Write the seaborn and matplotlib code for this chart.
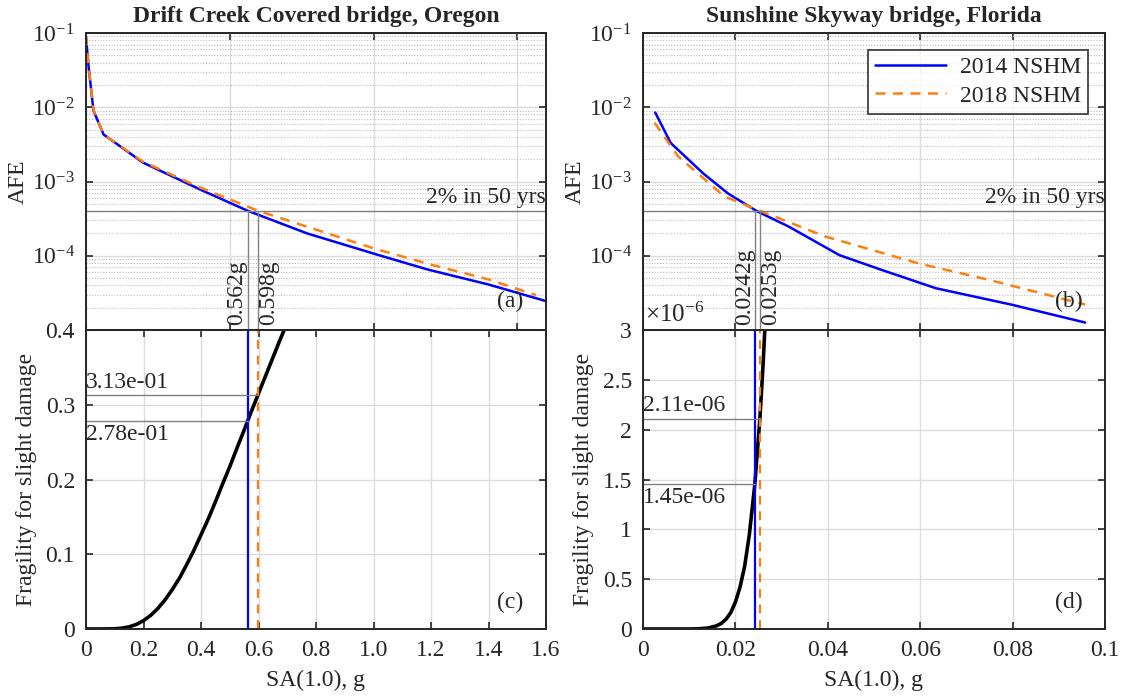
import numpy as np
import pandas as pd
import matplotlib
matplotlib.use("Agg")
import matplotlib.pyplot as plt
from matplotlib.ticker import LogLocator, NullFormatter, FuncFormatter
import seaborn as sns

sns.set_theme(style="ticks")
plt.rcParams['font.family'] = ['Liberation Serif', 'DejaVu Serif']
plt.rcParams['mathtext.fontset'] = 'stix'
plt.rcParams['mathtext.default'] = 'regular'
plt.rcParams['font.size'] = 17
FS = 17

# hazard curves (SA in g, AFE)
or_sa_2014 = [0.0, 0.009, 0.026, 0.061, 0.198, 0.397, 0.562, 0.769, 1.018, 1.19, 1.40, 1.60]
or_afe_2014 = [8.8e-2, 3.5e-2, 9.0e-3, 4.3e-3, 1.8e-3, 7.8e-4, 4.04e-4, 2.0e-4, 1.02e-4, 6.5e-5, 4.1e-5, 2.45e-5]
or_sa_2018 = [0.0, 0.009, 0.026, 0.061, 0.198, 0.397, 0.598, 0.80, 1.0, 1.2, 1.40, 1.565]
or_afe_2018 = [9.2e-2, 3.6e-2, 9.2e-3, 4.3e-3, 1.85e-3, 8.3e-4, 4.04e-4, 2.25e-4, 1.26e-4, 7.6e-5, 4.8e-5, 2.95e-5]

fl_sa_2014 = [0.00264, 0.006, 0.013, 0.0184, 0.0246, 0.0316, 0.0425, 0.0518, 0.0634, 0.0797, 0.0957]
fl_afe_2014 = [8.5e-3, 3.3e-3, 1.29e-3, 6.9e-4, 4.0e-4, 2.46e-4, 1.02e-4, 6.4e-5, 3.65e-5, 2.2e-5, 1.26e-5]
fl_sa_2018 = [0.0025, 0.00754, 0.0176, 0.0253, 0.0394, 0.0596, 0.0751, 0.0957]
fl_afe_2018 = [6.2e-3, 2.2e-3, 6.3e-4, 4.04e-4, 1.82e-4, 7.9e-5, 4.7e-5, 2.2e-5]

# fragility curves for slight damage
or_frag_sa = [0.0, 0.05, 0.1, 0.125, 0.15, 0.175, 0.2, 0.225, 0.25, 0.275, 0.3, 0.325, 0.35,
              0.375, 0.4, 0.425, 0.45, 0.475, 0.5, 0.525, 0.55, 0.575, 0.6, 0.625, 0.65, 0.675, 0.7]
or_frag = [0.0, 0.0, 0.0003, 0.0011, 0.0029, 0.0061, 0.0112, 0.0182, 0.0275, 0.039, 0.0527, 0.068,
           0.086, 0.105, 0.126, 0.147, 0.170, 0.194, 0.217, 0.242, 0.266, 0.291, 0.315, 0.339,
           0.363, 0.387, 0.410]
fl_frag_sa = [0.0, 0.005, 0.010, 0.012, 0.014, 0.016, 0.017, 0.018, 0.019, 0.020, 0.021, 0.022,
              0.023, 0.0242, 0.0253, 0.026, 0.0267]
fl_frag_e6 = [0.0, 0.0, 0.0002, 0.002, 0.009, 0.033, 0.058, 0.10, 0.165, 0.27, 0.42, 0.63,
              0.94, 1.45, 2.11, 2.66, 3.32]

afe_2in50 = 4.04e-4
or_sa_pts = [0.562, 0.598]
or_frag_pts = [0.278, 0.313]
fl_sa_pts = [0.0242, 0.0253]
fl_frag_pts = [1.45, 2.11]

blue = '#0000FF'
orange = '#FF7F0E'
gray = '#808080'
gridc = '#DCDCDC'

fig = plt.figure(figsize=(11.22, 6.96), dpi=100)
W, H = 1122, 696
def box(x0, x1, y0, y1):
    return [x0 / W, 1 - y1 / H, (x1 - x0) / W, (y1 - y0) / H]

ax_a = fig.add_axes(box(86, 546, 33, 330))
ax_b = fig.add_axes(box(643, 1105, 33, 330))
ax_c = fig.add_axes(box(86, 546, 330, 629))
ax_d = fig.add_axes(box(643, 1105, 330, 629))


def style(ax):
    for s in ax.spines.values():
        s.set_color('#262626')
        s.set_linewidth(1.4)
    ax.tick_params(direction='in', length=5, width=1.2, top=True, right=True,
                   labelsize=FS, colors='#262626', labelcolor='#262626', pad=8)
    ax.grid(True, which='major', color=gridc, lw=1.0)
    ax.set_axisbelow(True)


def hazard(ax, sa14, afe14, sa18, afe18, xmax, pts, lbls, tag):
    ax.set_yscale('log')
    sns.lineplot(x=sa14, y=afe14, ax=ax, color=blue, lw=1.8, sort=False,
                 estimator=None, label='2014 NSHM')
    sns.lineplot(x=sa18, y=afe18, ax=ax, color=orange, lw=1.8, sort=False,
                 estimator=None, label='2018 NSHM', dashes=False)
    ax.lines[-1].set_dashes((4, 3))
    ax.set_xlim(0, xmax)
    ax.set_ylim(1e-5, 1e-1)
    ax.set_yticks([1e-4, 1e-3, 1e-2, 1e-1])
    ax.yaxis.set_minor_locator(LogLocator(base=10, subs=np.arange(2, 10)))
    ax.yaxis.set_minor_formatter(NullFormatter())
    style(ax)
    ax.tick_params(which='minor', length=0)
    ax.grid(True, which='minor', axis='y', color='#BEBEBE', lw=0.8, ls=(0, (1, 1.5)))
    ax.tick_params(labelbottom=False)
    ax.set_ylabel('AFE', fontsize=FS, labelpad=2)
    ax.axhline(afe_2in50, color=gray, lw=1.0)
    ax.text(xmax, afe_2in50 * 1.08, '2% in 50 yrs', ha='right', va='bottom', fontsize=FS)
    for x, lb, ha in zip(pts, lbls, ['right', 'left']):
        ax.plot([x, x], [1e-5, afe_2in50], color=gray, lw=1.0)
        ax.text(x, 1.15e-5, lb, rotation=90, ha=ha, va='bottom', fontsize=FS)
    ax.text(xmax * 0.921, 2.4e-5, tag, ha='center', va='center', fontsize=FS)


hazard(ax_a, or_sa_2014, or_afe_2014, or_sa_2018, or_afe_2018, 1.6,
       or_sa_pts, ['0.562g', '0.598g'], '(a)')
hazard(ax_b, fl_sa_2014, fl_afe_2014, fl_sa_2018, fl_afe_2018, 0.1,
       fl_sa_pts, ['0.0242g', '0.0253g'], '(b)')
ax_a.get_legend().remove()
leg = ax_b.legend(loc='upper right', fontsize=FS, handlelength=3.0, frameon=True,
                  fancybox=False, borderaxespad=0.7, borderpad=0.3, labelspacing=0.3,
                  handletextpad=0.6)
leg.get_frame().set_edgecolor('black')
leg.get_frame().set_linewidth(1.2)
ax_b.set_zorder(3)
ax_b.text(0.005, 0.01, r'$\times10^{-6}$', transform=ax_b.transAxes, ha='left',
          va='bottom', fontsize=FS + 1)

ax_a.set_title('Drift Creek Covered bridge, Oregon', fontsize=FS, fontweight='bold', pad=8)
ax_b.set_title('Sunshine Skyway bridge, Florida', fontsize=FS, fontweight='bold', pad=8)


def fragility(ax, sa, fr, xmax, ymax, pts, frs, lbls, tag, ticks, xticks, xfmt):
    sns.lineplot(x=sa, y=fr, ax=ax, color='black', lw=2.6, sort=False, estimator=None)
    ax.set_xlim(0, xmax)
    ax.set_ylim(0, ymax)
    ax.set_yticks(ticks)
    ax.set_xticks(xticks)
    ax.xaxis.set_major_formatter(FuncFormatter(xfmt))
    ax.yaxis.set_major_formatter(FuncFormatter(lambda v, p: '%g' % v))
    style(ax)
    ax.axvline(pts[0], color=blue, lw=1.6)
    ax.axvline(pts[1], color=orange, lw=1.6, dashes=(4, 3))
    ax.plot([0, pts[0]], [frs[0], frs[0]], color=gray, lw=1.0)
    ax.plot([0, pts[1]], [frs[1], frs[1]], color=gray, lw=1.0)
    ax.text(0, frs[1] + ymax * 0.008, lbls[1], ha='left', va='bottom', fontsize=FS)
    ax.text(0, frs[0] - ymax * 0.008, lbls[0], ha='left', va='top', fontsize=FS)
    ax.text(xmax * 0.921, ymax * 0.088, tag, ha='center', va='center', fontsize=FS)
    ax.set_xlabel('SA(1.0), g', fontsize=FS, labelpad=6)
    ax.set_ylabel('Fragility for slight damage', fontsize=FS, labelpad=6)


fragility(ax_c, or_frag_sa, or_frag, 1.6, 0.4, or_sa_pts, or_frag_pts,
          ['2.78e-01', '3.13e-01'], '(c)', [0, 0.1, 0.2, 0.3, 0.4],
          np.arange(0, 1.61, 0.2), lambda v, p: '0' if v == 0 else '%.1f' % v)
fragility(ax_d, fl_frag_sa, fl_frag_e6, 0.1, 3.0, fl_sa_pts, fl_frag_pts,
          ['1.45e-06', '2.11e-06'], '(d)', [0, 0.5, 1, 1.5, 2, 2.5, 3],
          np.arange(0, 0.101, 0.02), lambda v, p: '%g' % round(v, 4))

fig.savefig('out.png', dpi=100, facecolor='white')
